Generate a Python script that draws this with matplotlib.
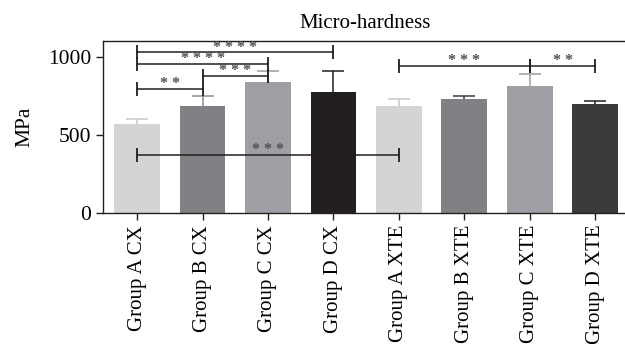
import matplotlib
matplotlib.use("Agg")
import matplotlib.pyplot as plt

plt.rcParams['font.family'] = ['Liberation Serif', 'DejaVu Serif']

# bar data (MPa)
groups = ["Group A CX", "Group B CX", "Group C CX", "Group D CX",
          "Group A XTE", "Group B XTE", "Group C XTE", "Group D XTE"]
means = [570, 686, 840, 778, 686, 731, 814, 699]
errors = [34, 64, 72, 134, 43, 21, 79, 21]
colors = ["#d3d4d6", "#808184", "#9d9fa5", "#231f20",
          "#d3d4d6", "#808184", "#9d9fa5", "#3a3a3a"]
err_colors = ["#c6c7c9", "#8a8b8e", "#9a9ca2", "#231f20",
              "#c6c7c9", "#3a3a3a", "#9a9ca2", "#231f20"]

# significance brackets: (from, to, height, stars)
brackets = [(0, 3, 1030, "* * * *"),
            (0, 2, 956, "* * * *"),
            (1, 2, 878, "* * *"),
            (0, 1, 797, "* *"),
            (0, 4, 370, "* * *"),
            (4, 6, 942, "* * *"),
            (6, 7, 942, "* *")]

fig = plt.figure(figsize=(6.25, 3.44), dpi=100)
ax = fig.add_axes([0.1648, 0.3808, 0.84, 0.4986])

x = list(range(len(groups)))
ax.bar(x, means, width=0.7, color=colors, zorder=2)
for i in x:
    _, caps, _ = ax.errorbar(i, means[i], yerr=[[0], [errors[i]]],
                             color=err_colors[i], capsize=8, elinewidth=1.1,
                             capthick=1.1, zorder=3)
    caps[0].set_visible(False)  # only the upper cap

for a, b, h, s in brackets:
    ax.plot([a, b], [h, h], color="#231f20", lw=1.1, marker="|",
            markersize=10.5, mew=1.3, zorder=4)
    ax.annotate(s, ((a + b) / 2, h), xytext=(0, 3.5), textcoords="offset points",
                ha="center", va="center", fontsize=11.5, fontweight="bold",
                color="#505050", zorder=5)

ax.set_xlim(-0.52, 7.5)
ax.set_ylim(0, 1100)
ax.set_yticks([0, 500, 1000])
ax.set_xticks(x)
ax.set_xticklabels(groups, rotation=90)
ax.tick_params(labelsize=15.5, length=5, width=1, color="#231f20")
ax.tick_params(axis="x", labelsize=15)
ax.spines['right'].set_visible(False)
for sp in ['left', 'top', 'bottom']:
    ax.spines[sp].set_linewidth(1)
    ax.spines[sp].set_color("#231f20")
ax.set_ylabel("MPa", fontsize=15.5, labelpad=10)
ax.set_title("Micro-hardness", fontsize=15, pad=10)

fig.savefig("out.png", dpi=100)
